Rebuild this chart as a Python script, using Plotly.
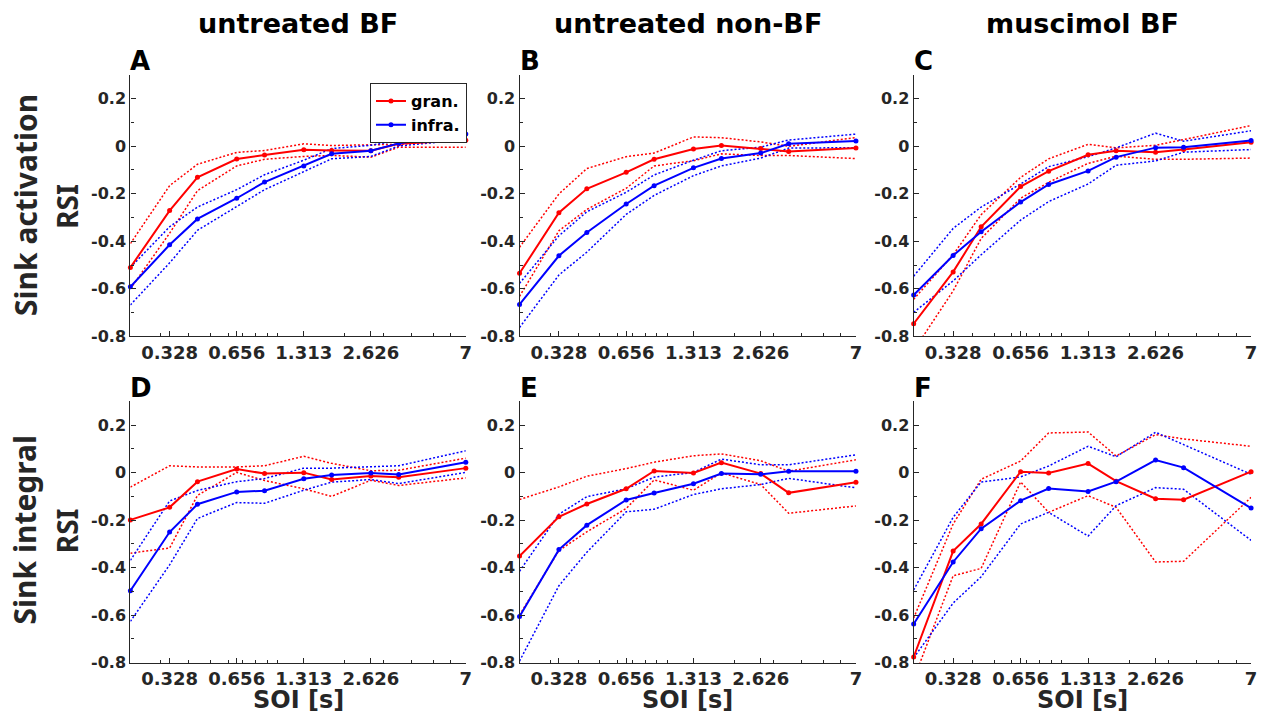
import math
import plotly.graph_objects as go

# SOI values [s]
soi = [7/32, 21/64, 7/16, 21/32, 7/8, 21/16, 7/4, 21/8, 7/2, 7]
x_tickvals = [21/64, 21/32, 21/16, 21/8, 7]
x_ticktext = ["0.328", "0.656", "1.313", "2.626", "7"]
x_minor = [0.3, 0.4, 0.5, 0.6, 0.7, 0.8, 0.9, 1, 2, 3, 4, 5, 6]
y_tickvals = [-0.8, -0.6, -0.4, -0.2, 0, 0.2]
y_ticktext = ["-0.8", "-0.6", "-0.4", "-0.2", "0", "0.2"]
y_minor = [-0.7, -0.5, -0.3, -0.1, 0.1, 0.3]

col_titles = ["untreated BF", "untreated non-BF", "muscimol BF"]
row_titles = ["Sink activation", "Sink integral"]
panel_letters = ["A", "B", "C", "D", "E", "F"]

# Panel A
A_gran = [-0.51, -0.271, -0.131, -0.054, -0.037, -0.015, -0.018, -0.019, 0.010, 0.025]
A_gran_hi = [-0.41, -0.166, -0.076, -0.026, -0.018, 0.010, 0.003, 0.006, 0.008, 0.030]
A_gran_lo = [-0.60, -0.366, -0.187, -0.083, -0.055, -0.043, -0.039, -0.046, -0.004, -0.004]
A_infra = [-0.592, -0.415, -0.306, -0.219, -0.151, -0.083, -0.032, -0.019, 0.012, 0.051]
A_infra_hi = [-0.51, -0.339, -0.256, -0.183, -0.120, -0.059, -0.010, 0.004, 0.024, 0.075]
A_infra_lo = [-0.668, -0.491, -0.354, -0.256, -0.183, -0.107, -0.053, -0.043, 0.001, 0.028]
# Panel B
B_gran = [-0.535, -0.28, -0.179, -0.110, -0.055, -0.012, 0.003, -0.010, -0.022, -0.008]
B_gran_hi = [-0.425, -0.201, -0.094, -0.044, -0.029, 0.039, 0.036, 0.018, 0.0, 0.036]
B_gran_lo = [-0.632, -0.356, -0.266, -0.177, -0.083, -0.061, -0.032, -0.039, -0.039, -0.052]
B_infra = [-0.666, -0.461, -0.363, -0.243, -0.166, -0.091, -0.052, -0.029, 0.010, 0.022]
B_infra_hi = [-0.577, -0.377, -0.276, -0.194, -0.121, -0.059, -0.019, -0.004, 0.026, 0.051]
B_infra_lo = [-0.763, -0.542, -0.446, -0.287, -0.207, -0.124, -0.083, -0.050, -0.008, -0.006]
# Panel C
C_gran = [-0.747, -0.529, -0.339, -0.170, -0.105, -0.036, -0.019, -0.025, -0.014, 0.017]
C_gran_hi = [-0.644, -0.457, -0.288, -0.131, -0.053, 0.008, -0.007, 0.004, 0.028, 0.087]
C_gran_lo = [-0.86, -0.609, -0.388, -0.219, -0.152, -0.072, -0.042, -0.055, -0.055, -0.050]
C_infra = [-0.626, -0.460, -0.360, -0.235, -0.161, -0.104, -0.046, -0.006, -0.004, 0.024]
C_infra_hi = [-0.547, -0.346, -0.256, -0.159, -0.086, -0.044, -0.007, 0.055, 0.021, 0.065]
C_infra_lo = [-0.699, -0.567, -0.457, -0.311, -0.233, -0.159, -0.080, -0.062, -0.025, -0.014]
# Panel D
D_gran = [-0.199, -0.146, -0.038, 0.015, -0.004, 0.0, -0.029, -0.014, -0.019, 0.019]
D_gran_hi = [-0.061, 0.029, 0.024, 0.024, 0.029, 0.069, 0.039, 0.008, 0.010, 0.061]
D_gran_lo = [-0.339, -0.317, -0.096, 0.001, -0.033, -0.068, -0.100, -0.032, -0.054, -0.022]
D_infra = [-0.497, -0.25, -0.133, -0.081, -0.076, -0.026, -0.010, -0.001, -0.008, 0.044]
D_infra_hi = [-0.369, -0.119, -0.075, -0.038, -0.025, 0.019, 0.019, 0.026, 0.029, 0.092]
D_infra_lo = [-0.626, -0.388, -0.193, -0.126, -0.129, -0.074, -0.040, -0.029, -0.046, 0.001]
# Panel E
E_gran = [-0.351, -0.186, -0.132, -0.068, 0.007, -0.001, 0.042, -0.004, -0.085, -0.040]
E_gran_hi = [-0.113, -0.060, -0.015, 0.017, 0.044, 0.071, 0.079, 0.050, 0.006, 0.054]
E_gran_lo = [-0.599, -0.328, -0.249, -0.151, -0.031, -0.074, -0.001, -0.050, -0.171, -0.140]
E_infra = [-0.606, -0.324, -0.221, -0.115, -0.086, -0.047, -0.004, -0.007, 0.006, 0.006]
E_infra_hi = [-0.415, -0.175, -0.101, -0.068, -0.019, 0.001, 0.057, 0.033, 0.033, 0.075]
E_infra_lo = [-0.793, -0.476, -0.335, -0.165, -0.154, -0.092, -0.068, -0.050, -0.024, -0.064]
# Panel F
F_gran = [-0.776, -0.330, -0.216, 0.004, -0.001, 0.038, -0.036, -0.110, -0.114, 0.004]
F_gran_hi = [-0.612, -0.216, -0.028, 0.049, 0.167, 0.171, 0.070, 0.160, 0.142, 0.111]
F_gran_lo = [-0.87, -0.434, -0.403, -0.039, -0.167, -0.097, -0.146, -0.376, -0.373, -0.104]
F_infra = [-0.637, -0.376, -0.236, -0.118, -0.067, -0.079, -0.038, 0.053, 0.021, -0.149]
F_infra_hi = [-0.494, -0.188, -0.039, -0.018, 0.028, 0.111, 0.067, 0.170, 0.118, -0.007]
F_infra_lo = [-0.779, -0.549, -0.438, -0.216, -0.167, -0.267, -0.139, -0.063, -0.070, -0.285]

panels = [
    (A_gran, A_gran_hi, A_gran_lo, A_infra, A_infra_hi, A_infra_lo),
    (B_gran, B_gran_hi, B_gran_lo, B_infra, B_infra_hi, B_infra_lo),
    (C_gran, C_gran_hi, C_gran_lo, C_infra, C_infra_hi, C_infra_lo),
    (D_gran, D_gran_hi, D_gran_lo, D_infra, D_infra_hi, D_infra_lo),
    (E_gran, E_gran_hi, E_gran_lo, E_infra, E_infra_hi, E_infra_lo),
    (F_gran, F_gran_hi, F_gran_lo, F_infra, F_infra_hi, F_infra_lo),
]

W, H = 1273, 723
RED, BLUE, AX = "#FF0000", "#0000FF", "#262626"
FONT = "DejaVu Sans"
LFONT = "Noto Sans"

col_px = [(131, 468), (522, 860), (918, 1257)]
row_px = [(76, 341), (407, 672)]

fig = go.Figure()
layout = dict(
    width=W, height=H, margin=dict(l=0, r=0, t=0, b=0),
    paper_bgcolor="white", plot_bgcolor="white",
    font=dict(family=FONT, color=AX),
    showlegend=True,
    legend=dict(x=469 / W, y=1 - 84 / H, xanchor="right", yanchor="top",
                bgcolor="white", bordercolor=AX, borderwidth=1.2,
                font=dict(family=FONT, size=16, color="black", weight="bold"),
                tracegroupgap=0, itemwidth=30),
)
annotations = []

for i, data in enumerate(panels):
    r, c = divmod(i, 3)
    idx = i + 1
    xa = "x" if idx == 1 else f"x{idx}"
    ya = "y" if idx == 1 else f"y{idx}"
    g, ghi, glo, inf, ihi, ilo = data
    for ys, col in ((ghi, RED), (glo, RED), (ihi, BLUE), (ilo, BLUE)):
        fig.add_trace(go.Scatter(x=soi, y=ys, mode="lines", xaxis=xa, yaxis=ya,
                                 line=dict(color=col, width=1.5, dash="2px,2px"),
                                 showlegend=False, hoverinfo="skip"))
    for ys, col, name in ((g, RED, "gran."), (inf, BLUE, "infra.")):
        fig.add_trace(go.Scatter(x=soi, y=ys, mode="lines+markers", xaxis=xa, yaxis=ya,
                                 line=dict(color=col, width=2),
                                 marker=dict(color=col, size=5),
                                 name=name, showlegend=(i == 0), cliponaxis=False))
    x0, x1 = col_px[c]
    y0, y1 = row_px[r]
    xkey = "xaxis" if idx == 1 else f"xaxis{idx}"
    ykey = "yaxis" if idx == 1 else f"yaxis{idx}"
    layout[xkey] = dict(
        domain=[x0 / W, x1 / W], anchor=ya, type="log",
        range=[math.log10(soi[0]), math.log10(soi[-1])],
        tickmode="array", tickvals=x_tickvals, ticktext=x_ticktext,
        ticks="inside", ticklen=5, tickwidth=1, tickcolor=AX,
        minor=dict(tickmode="array", tickvals=x_minor, ticks="inside", ticklen=3,
                   tickwidth=1, tickcolor=AX, showgrid=False),
        showline=True, linecolor=AX, linewidth=1.3, showgrid=False, zeroline=False,
        tickfont=dict(family=FONT, size=18, color=AX, weight="bold"),
    )
    layout[ykey] = dict(
        domain=[1 - y1 / H, 1 - y0 / H], anchor=xa, range=[-0.8, 0.3],
        tickmode="array", tickvals=y_tickvals, ticktext=y_ticktext,
        ticks="inside", ticklen=5, tickwidth=1, tickcolor=AX,
        minor=dict(tickmode="array", tickvals=y_minor, ticks="inside", ticklen=3,
                   tickwidth=1, tickcolor=AX, showgrid=False),
        showline=True, linecolor=AX, linewidth=1.3, showgrid=False, zeroline=False,
        tickfont=dict(family=FONT, size=16, color=AX, weight="bold"),
    )
    annotations.append(dict(text=panel_letters[i], x=(x0 - 2) / W, y=1 - (y0 - 14) / H,
                            xref="paper", yref="paper", xanchor="left", yanchor="middle",
                            showarrow=False,
                            font=dict(family=FONT, size=26, color="black", weight="bold")))

for c, t in enumerate(col_titles):
    x0, x1 = col_px[c]
    annotations.append(dict(text=t, x=(x0 + x1) / 2 / W, y=1 - 24 / H,
                            xref="paper", yref="paper", xanchor="center", yanchor="middle",
                            showarrow=False,
                            font=dict(family=FONT, size=27, color="black", weight="bold")))
    annotations.append(dict(text="SOI [s]", x=(x0 + x1) / 2 / W, y=1 - 710 / H,
                            xref="paper", yref="paper", xanchor="center", yanchor="middle",
                            showarrow=False,
                            font=dict(family=FONT, size=24, color=AX, weight="bold")))

row_centers = [208, 537]
for r, t in enumerate(row_titles):
    yc = row_centers[r]
    annotations.append(dict(text=t, x=25 / W, y=1 - yc / H, textangle=-90,
                            xref="paper", yref="paper", xanchor="center", yanchor="middle",
                            showarrow=False,
                            font=dict(family=LFONT, size=30, color=AX, weight="bold")))
    annotations.append(dict(text="RSI", x=67 / W, y=1 - (yc + 1) / H, textangle=-90,
                            xref="paper", yref="paper", xanchor="center", yanchor="middle",
                            showarrow=False,
                            font=dict(family=LFONT, size=28, color=AX, weight="bold")))

layout["annotations"] = annotations
fig.update_layout(**layout)
fig.write_html("out.html")
